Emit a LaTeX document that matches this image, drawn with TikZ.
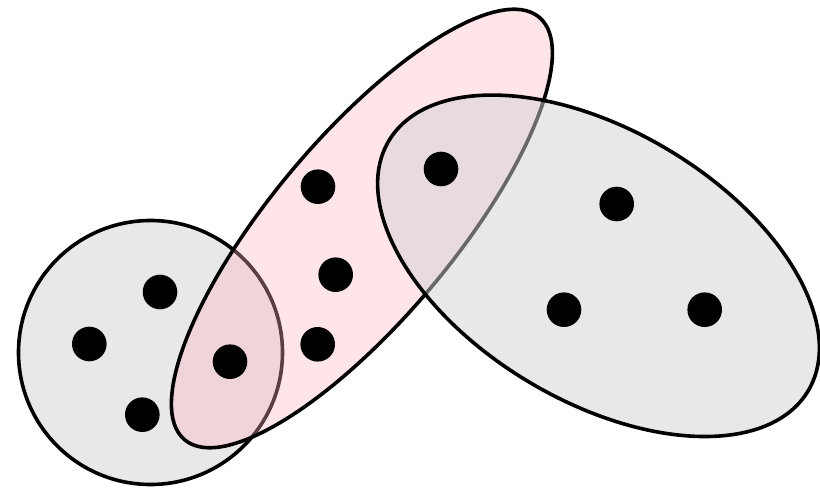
\documentclass[tikz,border=0pt]{standalone}
\definecolor{hgray}{RGB}{209,209,209}
\definecolor{hpink}{RGB}{255,178,190}
\tikzset{
  hedgegray/.style={draw=black, line width=1.8pt, fill=hgray, fill opacity=0.5},
  hedgepink/.style={draw=black, line width=1.8pt, fill=hpink, fill opacity=0.35},
  vertex/.style={circle, fill=black, inner sep=0pt, minimum size=17.3pt},
}
\begin{document}
\begin{tikzpicture}[x=0.5pt, y=0.5pt]
\useasboundingbox (0,0) rectangle (820,488);
% hyperedges
\draw[hedgegray] (150.5,135.5) circle [radius=132];
\draw[hedgepink, shift={(361.9,259.5)}, rotate=50] (0,0) ellipse [x radius=275.8, y radius=90.9];
\draw[hedgegray, shift={(598.5,222.2)}, rotate=-30.8] (0,0) ellipse [x radius=244.1, y radius=135.4];
% vertices
\node[vertex] (v1) at (160,196) {};
\node[vertex] (v2) at (89.3,144) {};
\node[vertex] (v3) at (142.3,73.3) {};
\node[vertex] (v4) at (230,126.3) {};
\node[vertex] (v5) at (335.7,213.3) {};
\node[vertex] (v6) at (317.7,143.7) {};
\node[vertex] (v7) at (318,301.3) {};
\node[vertex] (v8) at (441,319) {};
\node[vertex] (v9) at (616.7,284) {};
\node[vertex] (v10) at (564,178.3) {};
\node[vertex] (v11) at (704.7,178.3) {};
\end{tikzpicture}
\end{document}
